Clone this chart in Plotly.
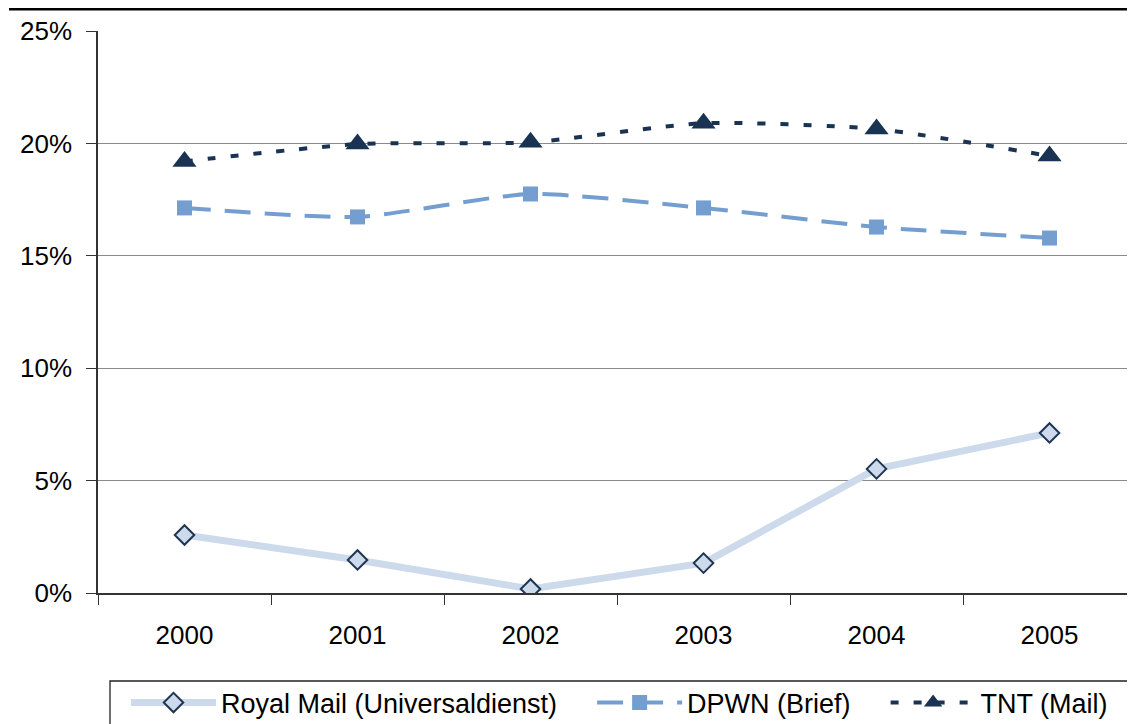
import plotly.graph_objects as go

years = ["2000", "2001", "2002", "2003", "2004", "2005"]
royal_mail = [2.58, 1.47, 0.18, 1.33, 5.52, 7.12]
dpwn = [17.13, 16.73, 17.75, 17.13, 16.28, 15.79]
tnt = [19.2, 19.97, 20.05, 20.9, 20.64, 19.44]
y_ticks = [0, 5, 10, 15, 20, 25]
y_labels = ["0%", "5%", "10%", "15%", "20%", "25%"]
series_names = ["Royal Mail (Universaldienst)", "DPWN (Brief)", "TNT (Mail)"]

FONT = "Liberation Sans, Arial, sans-serif"
PAD = "\u00a0" * 4

fig = go.Figure()
fig.add_trace(go.Scatter(
    x=years, y=royal_mail, name=series_names[0] + PAD, mode="lines+markers",
    line=dict(color="#CCDAEC", width=7),
    marker=dict(symbol="diamond", size=15, color="#CCDAEC", line=dict(color="#1F3552", width=2)),
))
fig.add_trace(go.Scatter(
    x=years, y=dpwn, name=series_names[1] + PAD, mode="lines+markers",
    line=dict(color="#749ECF", width=4, dash="26px,14px", shape="spline", smoothing=0.6),
    marker=dict(symbol="square", size=15, color="#749ECF"),
))
fig.add_trace(go.Scatter(
    x=years, y=tnt, name=series_names[2], mode="lines+markers",
    line=dict(color="#1A3352", width=4, dash="8px,15px", shape="spline", smoothing=0.6),
    marker=dict(symbol="triangle-up", size=21, color="#1A3352"),
))

# page has an 8px body margin; figure coordinates below are relative to the figure
W, H = 1127, 716
L, R, T, B = 90, 0, 23, 131
pw, ph = W - L - R, H - T - B

def px_x(x):
    return (x - L) / pw

def px_y(y):
    return (H - B - y) / ph

fig.update_layout(
    width=W, height=H,
    margin=dict(l=L, r=R, t=T, b=B, autoexpand=False),
    paper_bgcolor="white", plot_bgcolor="white",
    font=dict(family=FONT, size=26, color="black"),
    showlegend=True,
    legend=dict(
        orientation="h", x=px_x(118), xanchor="left", y=px_y(695), yanchor="middle",
        font=dict(family=FONT, size=27, color="black"),
        itemwidth=85,
        bgcolor="rgba(0,0,0,0)", borderwidth=0,
    ),
    xaxis=dict(
        type="category", range=[-0.5, 5.494], tickson="boundaries",
        ticks="outside", ticklen=10, tickcolor="#333", tickwidth=1.3,
        showline=True, linecolor="#333", linewidth=1.5, showgrid=False,
        ticklabelstandoff=18, zeroline=False, fixedrange=True,
    ),
    yaxis=dict(
        range=[0, 25], tickvals=y_ticks, ticktext=y_labels,
        ticks="outside", ticklen=10, tickcolor="#333", tickwidth=1.3,
        showline=True, linecolor="#333", linewidth=1.5,
        showgrid=True, gridcolor="#8a8a8a", gridwidth=1.3,
        zeroline=False, ticklabelstandoff=9,
    ),
    shapes=[
        dict(type="line", xref="paper", yref="paper", x0=px_x(1), x1=px_x(1140),
             y0=px_y(1), y1=px_y(1), line=dict(color="black", width=3)),
        dict(type="rect", xref="paper", yref="paper", x0=px_x(102), x1=px_x(1160),
             y0=px_y(673), y1=px_y(760), line=dict(color="#222", width=1.3),
             fillcolor="rgba(0,0,0,0)", layer="below"),
    ],
)

fig.write_html("out.html")
